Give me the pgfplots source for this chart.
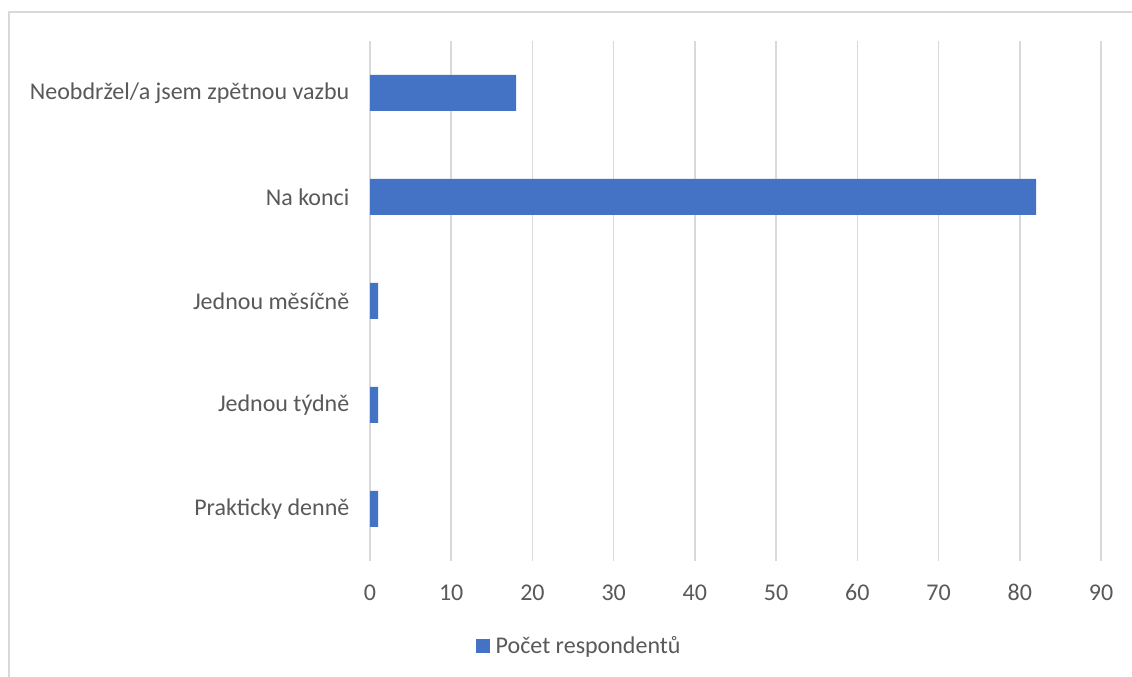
\documentclass[border=0pt]{standalone}
\usepackage{pgfplots}
\pgfplotsset{compat=1.18}
\usepackage{fontspec}
\setmainfont{Carlito}
\definecolor{barblue}{HTML}{4472C4}
\definecolor{gridgray}{HTML}{D9D9D9}
\definecolor{textgray}{HTML}{595959}
\begin{document}
\begin{tikzpicture}
\useasboundingbox (0pt,0pt) rectangle (849pt,507.75pt);
\fill[white] (0pt,0pt) rectangle (849pt,507.75pt);
\draw[gridgray, line width=0.9pt] (6.75pt,-15pt) -- (6.75pt,498.75pt) -- (870pt,498.75pt);
\begin{axis}[
  at={(277.5pt,87pt)}, anchor=south west,
  scale only axis,
  width=548.25pt, height=390pt,
  xbar, bar width=27pt,
  xmin=0, xmax=90,
  xtick={0,10,...,90},
  ymin=-0.5, ymax=4.5,
  ytick={0,1,2,3,4},
  yticklabels={Prakticky denně,Jednou týdně,Jednou měsíčně,Na konci,Neobdržel/a jsem zpětnou vazbu},
  axis line style={draw=none},
  major tick length=0pt,
  xmajorgrids,
  grid style={gridgray, line width=1.2pt},
  tick label style={font=\fontsize{18}{21}\selectfont, text=textgray},
  /pgf/number format/assume math mode=true,
  xticklabel style={anchor=base, yshift=-30pt},
  yticklabel style={xshift=-12pt},
  legend style={at={(0.287,-0.163)}, anchor=center, draw=none, fill=none,
    font=\fontsize{18}{21}\selectfont, text=textgray},
  legend image code/.code={\fill[barblue] (0pt,-5.25pt) rectangle (10.5pt,5.25pt);},
  legend cell align=left,
]
\addplot[fill=barblue, draw=none] coordinates {(1,0) (1,1) (1,2) (82,3) (18,4)};
\addlegendentry{\hspace{2pt}Počet respondentů}
\end{axis}
\end{tikzpicture}
\end{document}
